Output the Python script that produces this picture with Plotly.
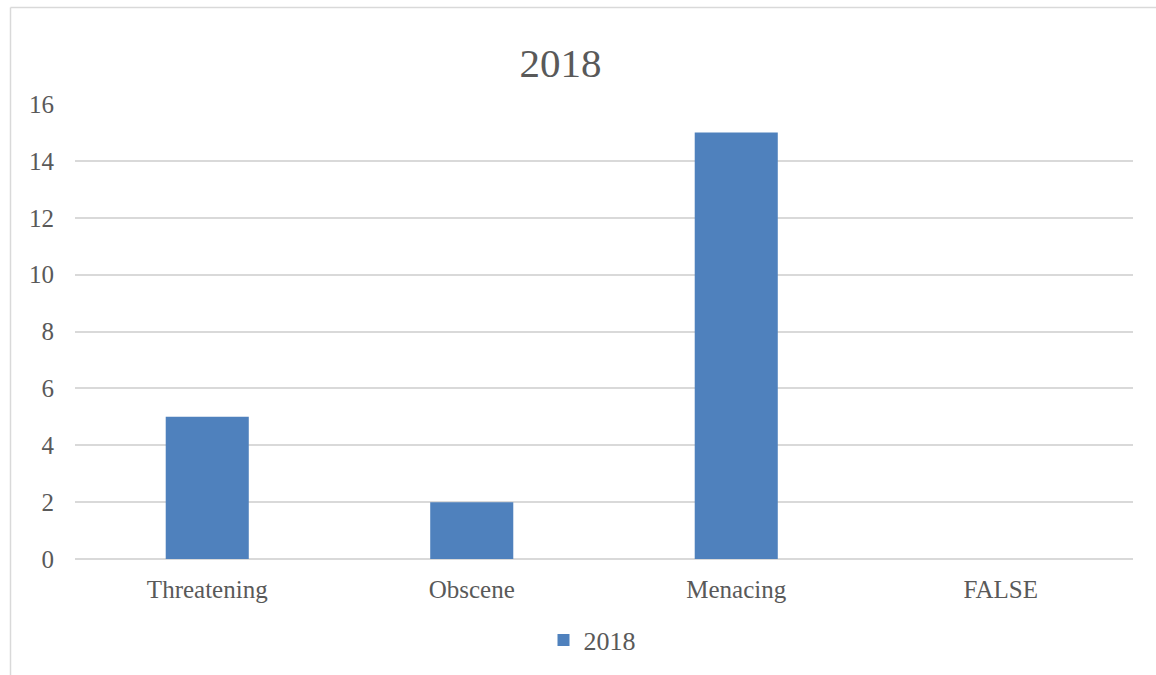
import plotly.graph_objects as go

categories = ["Threatening", "Obscene", "Menacing", "FALSE"]
values_2018 = [5, 2, 15, 0]
series_name = "2018"
chart_title = "2018"
y_ticks = [0, 2, 4, 6, 8, 10, 12, 14, 16]

FONT = "Liberation Serif"
TXT = "#595959"
GRID = "#d9d9d9"

W, H = 1156, 675
L, R, T, B = 75, 23, 104, 116
pw, ph = W - L - R, H - T - B

def px(x):
    return (x - L) / pw

def py(y):
    return (H - B - y) / ph

fig = go.Figure()
fig.add_trace(go.Bar(
    x=categories, y=values_2018, name=series_name,
    marker=dict(color="#4f81bd", line=dict(width=0)),
    showlegend=True,
))

fig.update_layout(
    width=W, height=H,
    margin=dict(l=L, r=R, t=T, b=B),
    paper_bgcolor="white", plot_bgcolor="white",
    font=dict(family=FONT, color=TXT, size=25),
    title=dict(text=chart_title, x=560.5 / W, xanchor="center",
               y=1 - 63 / H, yanchor="middle",
               font=dict(family=FONT, size=41, color=TXT)),
    bargap=0.686,
    showlegend=True,
    legend=dict(orientation="h", x=px(592), xanchor="center",
                y=py(640), yanchor="middle",
                font=dict(family=FONT, size=26, color=TXT),
                itemwidth=30),
    xaxis=dict(showgrid=False, showline=False, ticks="",
               ticklabelstandoff=13,
               tickfont=dict(family=FONT, size=25, color=TXT)),
    yaxis=dict(range=[0, 16], tickvals=y_ticks, showgrid=True,
               gridcolor=GRID, gridwidth=1.5, zeroline=True,
               zerolinecolor=GRID, zerolinewidth=1.5,
               showline=False, ticks="", ticklabelstandoff=20,
               tickfont=dict(family=FONT, size=25, color=TXT)),
    shapes=[
        dict(type="line", xref="paper", yref="paper",
             x0=px(10.5), x1=px(10.5), y0=py(7.5), y1=py(H + 5),
             line=dict(color=GRID, width=1.5)),
        dict(type="line", xref="paper", yref="paper",
             x0=px(10.5), x1=px(W + 5), y0=py(7.5), y1=py(7.5),
             line=dict(color=GRID, width=1.5)),
    ],
)

fig.write_html("out.html")
